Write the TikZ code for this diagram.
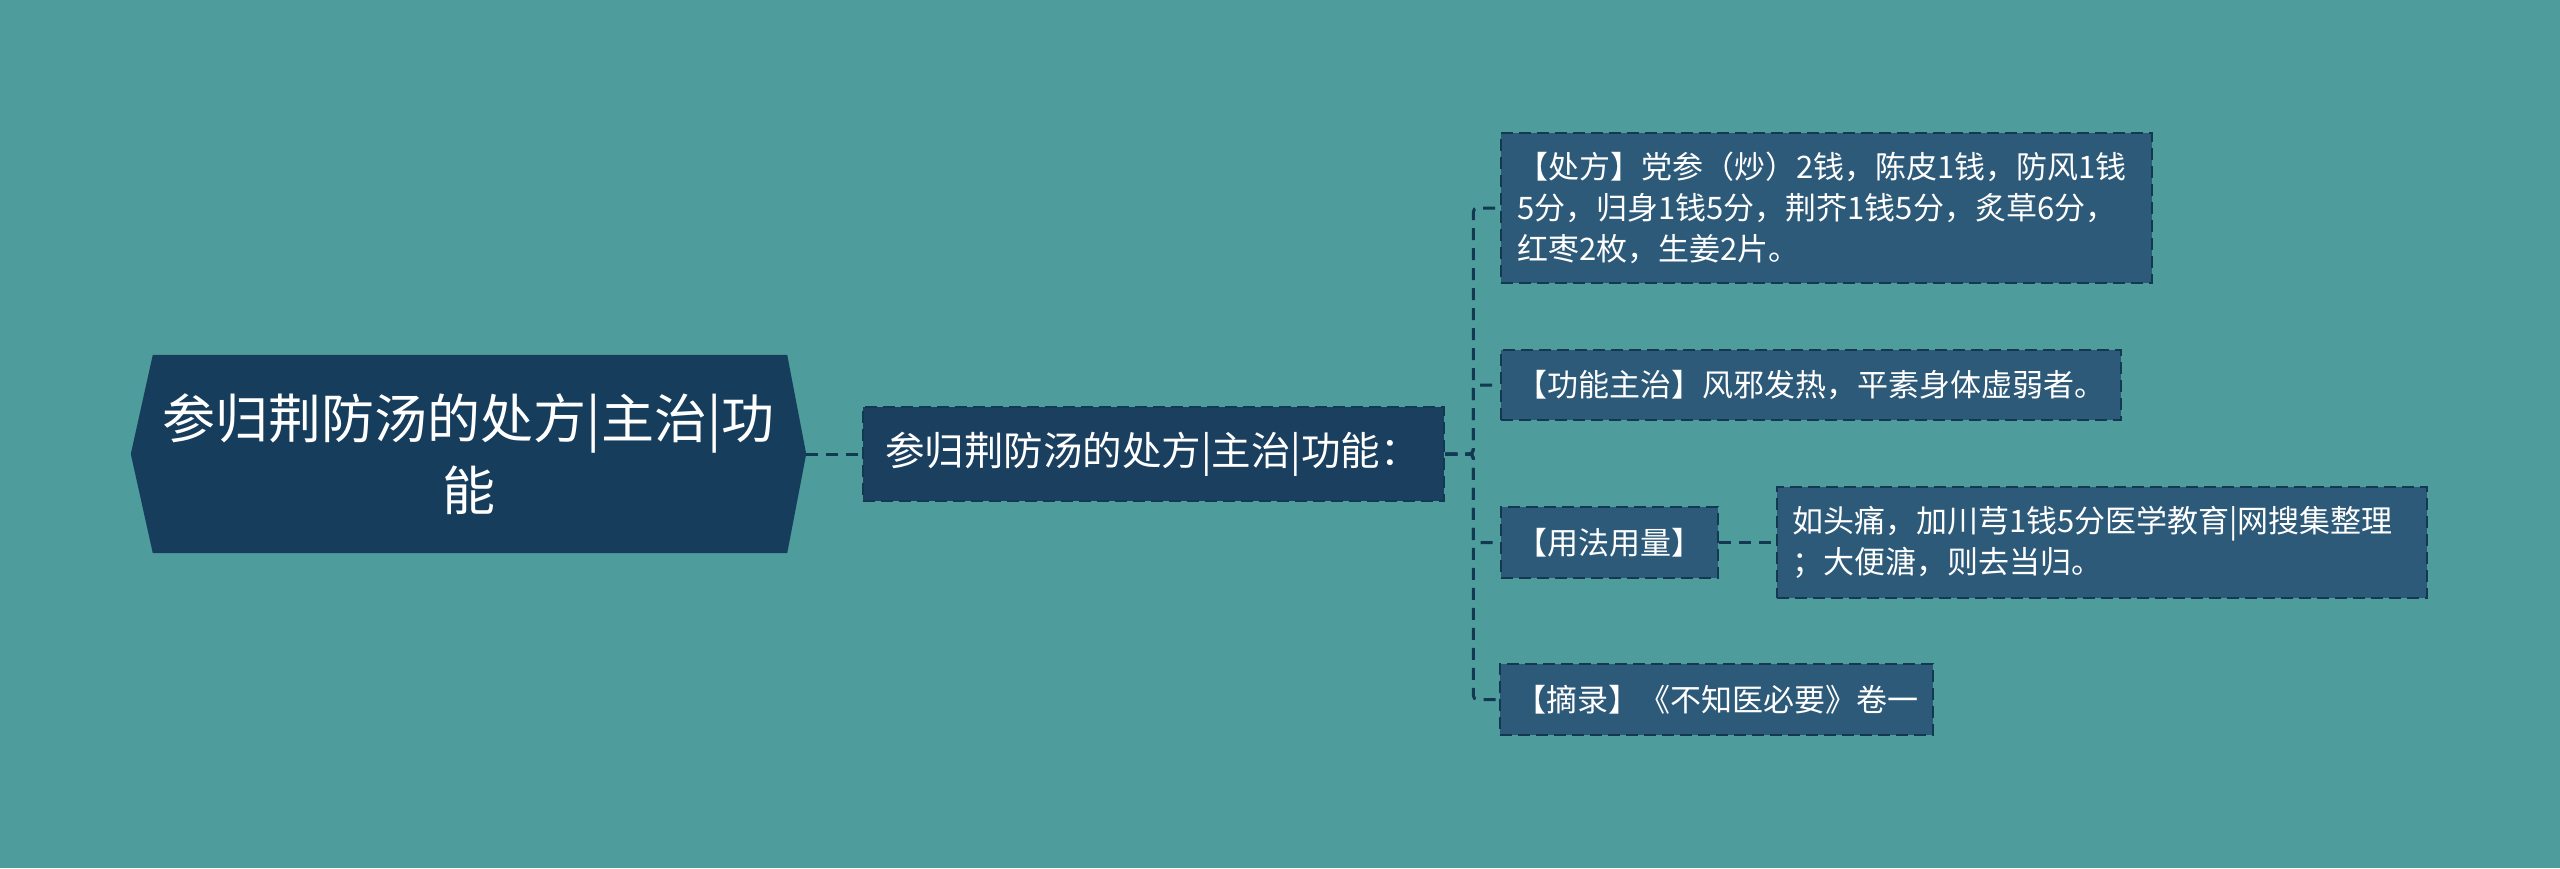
\documentclass[tikz,border=0pt]{standalone}
\usepackage{fontspec}
\setmainfont{Noto Sans CJK SC}
\usetikzlibrary{backgrounds}
\definecolor{bg}{HTML}{4E9C9C}
\definecolor{rootfill}{HTML}{173D5C}
\definecolor{mainfill}{HTML}{1B3F5F}
\definecolor{childfill}{HTML}{2E5A79}
\definecolor{edgecol}{HTML}{123852}
\begin{document}
\begin{tikzpicture}[x=1pt,y=-1pt,
  conn/.style={draw=edgecol, line width=3pt, dash pattern=on 12pt off 8pt, rounded corners=4pt},
  box/.style={draw=edgecol, line width=2.5pt, dash pattern=on 12pt off 6pt, text=white, inner sep=0pt, anchor=center},
  childbox/.style={box, fill=childfill, font=\fontsize{31}{41}\selectfont},
  mainbox/.style={box, fill=mainfill, font=\fontsize{39.5}{48}\selectfont},
  rootnode/.style={inner sep=0pt, text=white, align=center, font=\fontsize{53}{72}\selectfont}
]
\begin{pgfonlayer}{background}
\fill[bg] (0,0) rectangle (2560,868);
\end{pgfonlayer}
\useasboundingbox (0,0) rectangle (2560,868);

% root
\node[rootnode, minimum width=675pt, minimum height=198pt] (root) at (468.5,454)
  {参归荆防汤的处方|主治|功\\能};
\begin{pgfonlayer}{background}
\fill[rootfill] (root.west) -- ([xshift=22pt]root.north west) -- ([xshift=-19pt]root.north east)
  -- (root.east) -- ([xshift=-19pt]root.south east) -- ([xshift=22pt]root.south west) -- cycle;
\end{pgfonlayer}

% main
\node[mainbox, minimum width=581pt, minimum height=94pt, text width=537pt, align=left] (main) at (1153.5,454)
  {参归荆防汤的处方|主治|功能：};

% children
\node[childbox, minimum width=651pt, minimum height=150pt, text width=619pt, align=left] (c1) at (1826.5,208)
  {【处方】党参（炒）2钱，陈皮1钱，防风1钱\\5分，归身1钱5分，荆芥1钱5分，炙草6分，\\红枣2枚，生姜2片。};
\node[childbox, minimum width=620pt, minimum height=70pt, align=center] (c2) at (1811,385)
  {【功能主治】风邪发热，平素身体虚弱者。};
\node[childbox, minimum width=217pt, minimum height=71pt, align=center] (c3) at (1609.5,542.5)
  {【用法用量】};
\node[childbox, minimum width=650pt, minimum height=111pt, text width=620pt, align=left] (c3a) at (2102,542.5)
  {如头痛，加川芎1钱5分医学教育|网搜集整理\\；大便溏，则去当归。};
\node[childbox, minimum width=433pt, minimum height=71pt, align=center] (c4) at (1716.5,699.5)
  {【摘录】《不知医必要》卷一};

% connectors
\begin{pgfonlayer}{background}
\draw[conn] (root.east) -- (main.west);
\draw[conn] (main.east) -- ++(28pt,0) |- (c1.west);
\draw[conn] (main.east) -- ++(28pt,0) |- (c2.west);
\draw[conn] (main.east) -- ++(28pt,0) |- (c3.west);
\draw[conn] (main.east) -- ++(28pt,0) |- (c4.west);
\draw[conn] (c3.east) -- (c3a.west);
\end{pgfonlayer}
\end{tikzpicture}
\end{document}
